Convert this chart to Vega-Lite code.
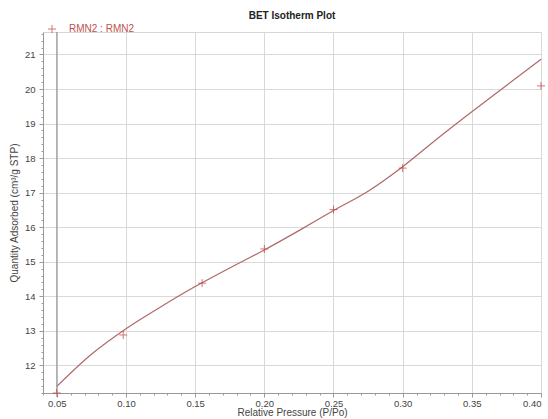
{
  "$schema": "https://vega.github.io/schema/vega-lite/v6.json",
  "width": 498,
  "height": 361,
  "autosize": {"type": "none"},
  "padding": {"left": 43, "top": 32, "right": 7, "bottom": 26},
  "background": "white",
  "title": {"text": "BET Isotherm Plot", "fontSize": 10, "font": "Liberation Sans", "fontWeight": "bold", "anchor": "middle", "offset": 3, "color": "#222"},
  "config": {
    "view": {"stroke": "#d6d6d6"},
    "axis": {"labelFont": "Liberation Sans", "titleFont": "Liberation Sans", "labelFontSize": 9.5, "titleFontSize": 10, "labelColor": "#444", "titleColor": "#444", "gridColor": "#d9d9d9", "tickColor": "#999", "domainColor": "#999", "titleFontWeight": "normal"}
  },
  "datasets": {
    "points": [
      {"p": 0.05, "q": 11.2, "series": "RMN2 : RMN2"},
      {"p": 0.098, "q": 12.88, "series": "RMN2 : RMN2"},
      {"p": 0.155, "q": 14.38, "series": "RMN2 : RMN2"},
      {"p": 0.2, "q": 15.37, "series": "RMN2 : RMN2"},
      {"p": 0.25, "q": 16.51, "series": "RMN2 : RMN2"},
      {"p": 0.3, "q": 17.71, "series": "RMN2 : RMN2"},
      {"p": 0.4, "q": 20.09, "series": "RMN2 : RMN2"}
    ],
    "curve": [
      {"p": 0.05, "q": 11.39},
      {"p": 0.075, "q": 12.32},
      {"p": 0.1, "q": 13.06},
      {"p": 0.125, "q": 13.69},
      {"p": 0.15, "q": 14.28},
      {"p": 0.175, "q": 14.82},
      {"p": 0.2, "q": 15.34},
      {"p": 0.225, "q": 15.9},
      {"p": 0.25, "q": 16.48},
      {"p": 0.275, "q": 17.04},
      {"p": 0.3, "q": 17.75},
      {"p": 0.325, "q": 18.56},
      {"p": 0.35, "q": 19.34},
      {"p": 0.375, "q": 20.1},
      {"p": 0.4, "q": 20.86}
    ],
    "marker": [{"p": 0.05}]
  },
  "layer": [
    {
      "data": {"name": "points"},
      "mark": {"type": "point", "opacity": 0},
      "encoding": {
        "x": {"field": "p", "type": "quantitative", "scale": {"domain": [0.04, 0.4], "nice": false, "zero": false},
          "axis": {"orient": "bottom", "values": [0.04,0.06,0.07,0.08,0.09,0.11,0.12,0.13,0.14,0.16,0.17,0.18,0.19,0.21,0.22,0.23,0.24,0.26,0.27,0.28,0.29,0.31,0.32,0.33,0.34,0.36,0.37,0.38,0.39], "labels": false, "grid": false, "domain": false, "tickSize": 2, "title": null}},
        "y": {"field": "q", "type": "quantitative", "scale": {"domain": [11.2, 21.65], "nice": false, "zero": false},
          "axis": {"orient": "left", "values": [11.2,11.4,11.6,11.8,12.2,12.4,12.6,12.8,13.2,13.4,13.6,13.8,14.2,14.4,14.6,14.8,15.2,15.4,15.6,15.8,16.2,16.4,16.6,16.8,17.2,17.4,17.6,17.8,18.2,18.4,18.6,18.8,19.2,19.4,19.6,19.8,20.2,20.4,20.6,20.8,21.2,21.4,21.6], "labels": false, "grid": false, "domain": false, "tickSize": 2, "title": null}}
      }
    },
    {
      "data": {"name": "curve"},
      "mark": {"type": "line", "interpolate": "monotone", "color": "#b06868", "strokeWidth": 1.2},
      "encoding": {
        "x": {"field": "p", "type": "quantitative", "scale": {"domain": [0.04, 0.4], "nice": false, "zero": false},
          "axis": {"orient": "bottom", "grid": true, "values": [0.05,0.1,0.15,0.2,0.25,0.3,0.35,0.4], "format": ".2f", "tickSize": 4, "labelPadding": 1, "titlePadding": 0, "title": "Relative Pressure (P/Po)"}},
        "y": {"field": "q", "type": "quantitative", "scale": {"domain": [11.2, 21.65], "nice": false, "zero": false},
          "axis": {"orient": "left", "grid": true, "values": [12,13,14,15,16,17,18,19,20,21], "tickSize": 4, "labelPadding": 4, "titlePadding": 5, "title": "Quantity Adsorbed (cm³/g STP)"}}
      }
    },
    {
      "data": {"name": "marker"},
      "mark": {"type": "rule", "color": "#8a8a8a", "strokeWidth": 1},
      "encoding": {
        "x": {"field": "p", "type": "quantitative", "scale": {"domain": [0.04, 0.4], "nice": false, "zero": false}, "axis": null}
      }
    },
    {
      "data": {"name": "points"},
      "mark": {"type": "point", "shape": "M-1,0H1M0,-1V1", "filled": false, "strokeWidth": 1, "size": 64},
      "encoding": {
        "x": {"field": "p", "type": "quantitative", "scale": {"domain": [0.04, 0.4], "nice": false, "zero": false}, "axis": null},
        "y": {"field": "q", "type": "quantitative", "scale": {"domain": [11.2, 21.65], "nice": false, "zero": false}, "axis": null},
        "color": {"field": "series", "type": "nominal", "scale": {"range": ["#c23b3b"]},
          "legend": {"orient": "none", "legendX": 4, "legendY": -8, "title": null, "padding": 0, "labelColor": "#c0504d", "labelFont": "Liberation Sans", "labelFontSize": 10, "symbolType": "M-1,0H1M0,-1V1", "symbolSize": 64, "symbolStrokeWidth": 1, "labelOffset": 12}}
      }
    }
  ],
  "resolve": {"axis": {"x": "independent", "y": "independent"}}
}
